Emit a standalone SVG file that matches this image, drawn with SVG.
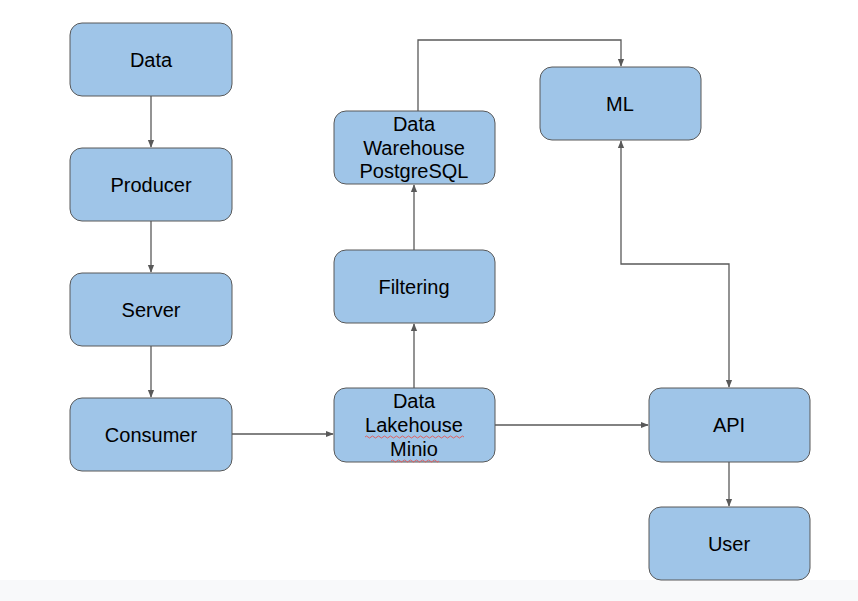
<svg xmlns="http://www.w3.org/2000/svg" width="858" height="601" viewBox="0 0 858 601">
<style>
.box{fill:#9fc5e8;stroke:#595959;stroke-width:1}
.t{font-family:"Liberation Sans",Arial,sans-serif;font-size:20px;fill:#000;text-anchor:middle}
.c{fill:none;stroke:#595959;stroke-width:1.3}
.sq{fill:none;stroke:#e06060;stroke-width:1}
</style>
<defs>
<marker id="ah" viewBox="0 0 10 10" refX="9" refY="5" markerWidth="8" markerHeight="8" markerUnits="userSpaceOnUse" orient="auto-start-reverse">
<path d="M0,1 L10,5 L0,9 Z" fill="#595959"/>
</marker>
</defs>
<rect x="0" y="0" width="858" height="601" fill="#ffffff"/>
<rect x="0" y="580" width="858" height="21" fill="#f8f9fa"/>
<g id="connectors">
<path class="c" d="M151,96 V147" marker-end="url(#ah)"/>
<path class="c" d="M151,221 V272" marker-end="url(#ah)"/>
<path class="c" d="M151,346 V397" marker-end="url(#ah)"/>
<path class="c" d="M232,434 H333" marker-end="url(#ah)"/>
<path class="c" d="M414,388 V324" marker-end="url(#ah)"/>
<path class="c" d="M414,250 V185" marker-end="url(#ah)"/>
<path class="c" d="M418,111 V40 H621 V66" marker-end="url(#ah)"/>
<path class="c" d="M621,141 V264 H729 V387" marker-start="url(#ah)" marker-end="url(#ah)"/>
<path class="c" d="M495,425 H648" marker-end="url(#ah)"/>
<path class="c" d="M729,462 V506" marker-end="url(#ah)"/>
</g>
<g id="data"><rect class="box" x="70" y="23" width="162" height="73" rx="12"/><text class="t" x="151" y="67">Data</text></g>
<g id="producer"><rect class="box" x="70" y="148" width="162" height="73" rx="12"/><text class="t" x="151" y="192">Producer</text></g>
<g id="server"><rect class="box" x="70" y="273" width="162" height="73" rx="12"/><text class="t" x="151" y="317">Server</text></g>
<g id="consumer"><rect class="box" x="70" y="398" width="162" height="73" rx="12"/><text class="t" x="151" y="442">Consumer</text></g>
<g id="lakehouse"><rect class="box" x="334" y="388" width="161" height="74" rx="12"/>
<text class="t" x="414" y="408">Data</text><text class="t" x="414" y="432">Lakehouse</text><text class="t" x="414" y="456">Minio</text>
<path class="sq" d="M365,437 q1.5,-2 3,0 t3,0 t3,0 t3,0 t3,0 t3,0 t3,0 t3,0 t3,0 t3,0 t3,0 t3,0 t3,0 t3,0 t3,0 t3,0 t3,0 t3,0 t3,0 t3,0 t3,0 t3,0 t3,0 t3,0 t3,0 t3,0 t3,0 t3,0 t3,0 t3,0 t3,0 t3,0 t3,0"/>
<path class="sq" d="M391,461 q1.5,-2 3,0 t3,0 t3,0 t3,0 t3,0 t3,0 t3,0 t3,0 t3,0 t3,0 t3,0 t3,0 t3,0 t3,0 t3,0 t3,0"/>
</g>
<g id="filtering"><rect class="box" x="334" y="250" width="161" height="73" rx="12"/><text class="t" x="414" y="294">Filtering</text></g>
<g id="warehouse"><rect class="box" x="334" y="111" width="161" height="73" rx="12"/>
<text class="t" x="414" y="131">Data</text><text class="t" x="414" y="155">Warehouse</text><text class="t" x="414" y="178">PostgreSQL</text></g>
<g id="ml"><rect class="box" x="540" y="67" width="161" height="73" rx="12"/><text class="t" x="620" y="111">ML</text></g>
<g id="api"><rect class="box" x="649" y="388" width="161" height="74" rx="12"/><text class="t" x="729" y="432">API</text></g>
<g id="user"><rect class="box" x="649" y="507" width="161" height="73" rx="12"/><text class="t" x="729" y="551">User</text></g>
</svg>
